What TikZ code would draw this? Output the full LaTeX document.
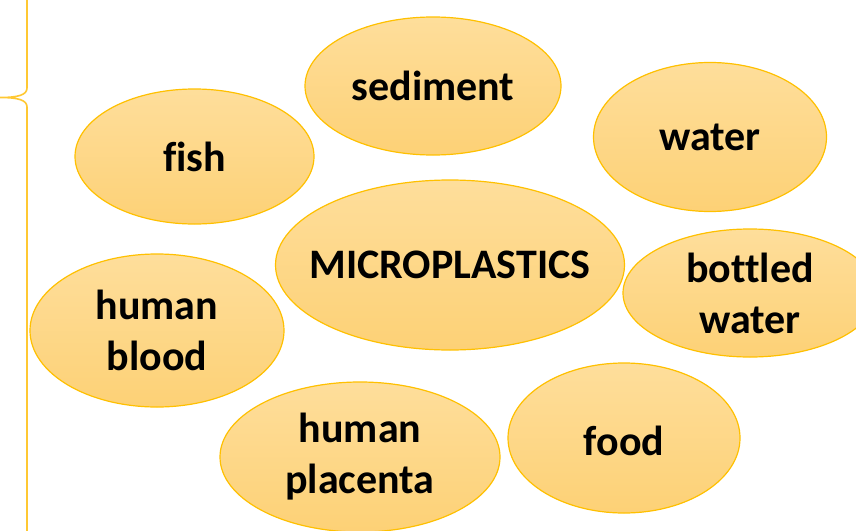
\documentclass[tikz,border=0pt]{standalone}
\usepackage{fontspec}
\setmainfont{Carlito}[Ligatures=NoCommon]
\usetikzlibrary{shapes.geometric}
\definecolor{goldline}{RGB}{255,192,0}
\definecolor{bracecol}{RGB}{255,200,50}
\definecolor{filltop}{RGB}{254,222,155}
\definecolor{fillbot}{RGB}{253,209,118}
\tikzset{
  blob/.style={ellipse, draw=goldline, line width=1.2pt, top color=filltop, bottom color=fillbot,
    inner sep=0pt},
  lbl/.style={inner sep=0pt, align=center, font=\fontsize{42}{51}\selectfont\bfseries, text=black},
}
\begin{document}
\begin{tikzpicture}[x=1pt,y=-1pt]
\useasboundingbox (0,0) rectangle (856,530);
\clip (0,0) rectangle (856,530);
% brace on the left
\coordinate (btop) at (27,-2);
\coordinate (btip) at (0,97.5);
\coordinate (bbot) at (27,532);
\draw[bracecol, line width=1.6pt, line join=round]
  (btop) -- (27,88) .. controls (27,95) and (18,97.5) .. (btip)
  .. controls (18,97.5) and (27,100) .. (27,107) -- (bbot);
% ellipses
\node[blob, minimum width=256pt, minimum height=138pt] (sediment) at (433,86) {};
\node[blob, minimum width=233pt, minimum height=149pt] (water) at (710,137) {};
\node[blob, minimum width=239pt, minimum height=135pt] (fish) at (194.5,156.5) {};
\node[blob, minimum width=349pt, minimum height=170pt] (micro) at (450,265) {};
\node[blob, minimum width=254pt, minimum height=128pt] (bottled) at (750,293) {};
\node[blob, minimum width=254pt, minimum height=153pt] (blood) at (157,330.5) {};
\node[blob, minimum width=280pt, minimum height=150pt] (placenta) at (360,457) {};
\node[blob, minimum width=232pt, minimum height=150pt] (food) at (624,438) {};
% labels
\node[lbl] (sedimentT) at (sediment) {sediment};
\node[lbl] (waterT) at (water) {water};
\node[lbl] (fishT) at (fish) {fish};
\node[lbl] (microT) at (micro) {MICROPLASTICS};
\node[lbl] (bottledT) at (bottled) {bottled\\water};
\node[lbl] (bloodT) at (blood) {human\\blood};
\node[lbl] (placentaT) at (placenta) {human\\placenta};
\node[lbl] (foodT) at ([yshift=-3pt]food.center) {food};
\end{tikzpicture}
\end{document}
